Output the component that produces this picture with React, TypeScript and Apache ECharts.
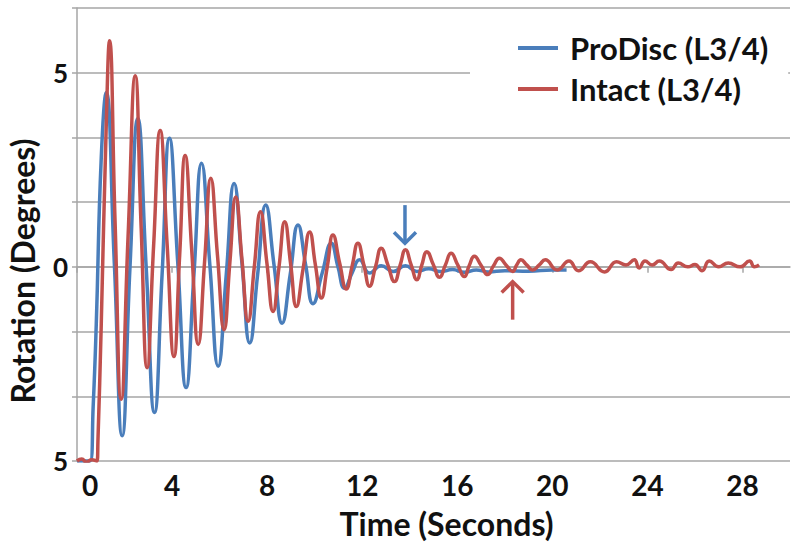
import React, { useEffect, useRef } from "react";
import * as echarts from "echarts";

// ProDisc (L3/4) – time (s) and rotation (degrees)
const prodiscT = [0, 0.3, 0.55, 0.68, 0.81, 1.02, 1.23, 1.57, 1.9, 2.23, 2.56, 2.91, 3.26, 3.58, 3.89, 4.24, 4.59, 4.92, 5.24, 5.59, 5.94, 6.28, 6.61, 6.94, 7.27, 7.6, 7.94, 8.29, 8.63, 8.97, 9.3, 9.62, 9.93, 10.32, 10.7, 10.98, 11.26, 11.58, 11.89, 12.31, 12.8, 13.3, 13.82, 14.3, 14.8, 15.3, 15.8, 16.3, 16.8, 17.3, 18.0, 19.0, 20.0, 20.6];
const prodiscV = [-5, -5, -5, -3.6, -1.49, 2.8, 4.49, 0.1, -4.35, 0, 3.82, 0, -3.75, -0.2, 3.31, 0.1, -3.11, -0.2, 2.67, 0.05, -2.56, -0.2, 2.15, 0.1, -1.96, -0.2, 1.59, 0.05, -1.45, -0.2, 1.08, 0.05, -0.95, -0.15, 0.61, 0.0, -0.55, -0.15, 0.18, -0.16, 0.03, -0.12, 0.03, -0.12, -0.05, -0.12, -0.07, -0.14, -0.08, -0.13, -0.1, -0.11, -0.08, -0.08];

// Intact (L3/4)
const intactT = [0, 0.2, 0.4, 0.6, 0.84, 0.88, 1.02, 1.23, 1.37, 1.6, 1.86, 2.15, 2.45, 2.7, 2.95, 3.22, 3.5, 3.79, 4.08, 4.32, 4.55, 4.83, 5.1, 5.37, 5.63, 5.91, 6.19, 6.43, 6.68, 6.94, 7.2, 7.46, 7.72, 7.99, 8.25, 8.5, 8.74, 8.99, 9.23, 9.51, 9.79, 10.03, 10.28, 10.53, 10.77, 11.05, 11.33, 11.58, 11.82, 12.07, 12.31, 12.56, 12.8, 13.08, 13.36, 13.6, 13.82, 14.06, 14.3, 14.5, 14.72, 14.99, 15.25, 15.5, 15.74, 16.02, 16.3, 16.5, 16.72, 17.0, 17.28, 17.52, 17.77, 18.05, 18.33, 18.5, 18.68, 18.92, 19.17, 19.45, 19.7, 20.2, 20.7, 21.1, 21.6, 22.2, 22.7, 23.1, 23.45, 23.65, 23.9, 24.2, 24.5, 25.0, 25.3, 25.7, 26.0, 26.3, 26.6, 27.0, 27.4, 27.9, 28.3, 28.5, 28.7];
const intactV = [-5, -4.95, -5.03, -4.97, -5, -4.5, -1.49, 3.64, 5.82, 1.2, -3.41, 0.8, 4.92, 1.0, -2.6, 0.5, 3.51, 0.6, -2.31, 0.3, 2.87, 0.4, -2.0, 0.15, 2.28, 0.3, -1.62, 0.1, 1.8, 0.2, -1.4, 0.0, 1.42, 0.1, -1.15, 0.0, 1.16, 0.07, -1.02, -0.06, 0.9, 0.05, -0.8, 0.0, 0.82, 0.1, -0.57, 0.03, 0.61, 0.05, -0.5, 0.0, 0.48, 0.05, -0.38, 0.05, 0.44, 0.05, -0.33, 0.03, 0.39, 0.06, -0.27, 0.05, 0.35, 0.05, -0.25, 0.03, 0.27, 0.04, -0.2, 0.02, 0.22, 0.05, -0.12, 0.05, 0.18, 0.05, -0.08, 0.05, 0.18, -0.08, 0.15, -0.1, 0.13, -0.13, 0.13, 0.05, 0.18, -0.03, 0.15, 0.05, 0.15, -0.07, 0.1, 0.0, 0.06, -0.1, 0.15, 0.0, 0.1, 0.0, 0.15, 0.0, 0.05];

const seriesNames = ["ProDisc (L3/4)", "Intact (L3/4)"];
const seriesColors = ["#4a7ebb", "#c0504d"];
const xTickValues = [0, 4, 8, 12, 16, 20, 24, 28];
const yLabelValues = [5, 0, -5];
const yLabelTexts = ["5", "0", "5"];

// Annotation arrows: [time, tail value, tip value]
const blueArrow = [13.8, 1.59, 0.61];
const redArrow = [18.33, -1.36, -0.38];

const FONT = "Lato, 'Open Sans', sans-serif";

export default function App() {
  const ref = useRef<HTMLDivElement>(null);
  useEffect(() => {
    if (!ref.current) return;
    const chart = echarts.init(ref.current, null, { renderer: "svg" });
    const zip = (t: number[], v: number[]) => t.map((x, i) => [x, v[i]]);
    chart.setOption({
      animation: false,
      backgroundColor: "#fff",
      grid: { left: 77, right: 10, top: 8, bottom: 88 },
      legend: {
        orient: "vertical",
        left: 470,
        top: 22,
        backgroundColor: "#fff",
        padding: [10, 20, 10, 48],
        itemWidth: 40,
        itemHeight: 4,
        itemGap: 9,
        icon: "rect",
        textStyle: { fontSize: 31, fontWeight: "bold", fontFamily: FONT, color: "#111", padding: [0, 0, 0, 7], lineHeight: 32 },
        data: seriesNames,
      },
      xAxis: {
        type: "value",
        min: 0,
        max: 30,
        interval: 4,
        axisLine: { lineStyle: { color: "#a6a6a6", width: 1.5 } },
        axisTick: { show: true, length: 6, customValues: xTickValues, lineStyle: { color: "#a6a6a6", width: 1.5 } },
        axisLabel: {
          customValues: xTickValues,
          margin: 10,
          fontSize: 28,
          fontWeight: "bold",
          fontFamily: FONT,
          color: "#111",
          formatter: (v: number) => (v === 0 ? "{z|0}" : String(v)),
          rich: { z: { padding: [0, 0, 0, 26], fontSize: 28, fontWeight: "bold", fontFamily: FONT, color: "#111" } },
        },
        splitLine: { show: false },
        name: "Time (Seconds)",
        nameLocation: "middle",
        nameGap: 46,
        nameTextStyle: { fontSize: 32, fontWeight: "bold", fontFamily: FONT, color: "#111", padding: [0, 0, 0, 26] },
      },
      yAxis: {
        type: "value",
        min: -5,
        max: 20 / 3,
        interval: 5 / 3,
        axisLine: { show: true, lineStyle: { color: "#a6a6a6", width: 1.5 } },
        axisTick: { show: true, length: 5, lineStyle: { color: "#a6a6a6", width: 1.5 } },
        axisLabel: {
          margin: 9,
          fontSize: 26,
          fontWeight: "bold",
          fontFamily: FONT,
          color: "#111",
          formatter: (v: number) => {
            for (let i = 0; i < yLabelValues.length; i++) {
              if (Math.abs(v - yLabelValues[i]) < 1e-6) return yLabelTexts[i];
            }
            return "";
          },
        },
        splitLine: { lineStyle: { color: "#a6a6a6", width: 1.5 } },
      },
      series: [
        {
          name: seriesNames[0],
          type: "line",
          data: zip(prodiscT, prodiscV),
          smooth: 0.5,
          showSymbol: false,
          lineStyle: { width: 3.5, color: seriesColors[0] },
          itemStyle: { color: seriesColors[0] },
        },
        {
          name: seriesNames[1],
          type: "line",
          data: zip(intactT, intactV),
          smooth: 0.5,
          showSymbol: false,
          lineStyle: { width: 3.5, color: seriesColors[1] },
          itemStyle: { color: seriesColors[1] },
        },
      ],
    });

    const arrowEls = (a: number[], color: string) => {
      const tail = chart.convertToPixel({ gridIndex: 0 }, [a[0], a[1]]) as number[];
      const tip = chart.convertToPixel({ gridIndex: 0 }, [a[0], a[2]]) as number[];
      const dir = tip[1] > tail[1] ? -1 : 1;
      return [
        { type: "line", shape: { x1: tail[0], y1: tail[1], x2: tip[0], y2: tip[1] }, style: { stroke: color, lineWidth: 3.5 }, z: 10 },
        {
          type: "polyline",
          shape: { points: [[tip[0] - 11, tip[1] + dir * 11], [tip[0], tip[1]], [tip[0] + 11, tip[1] + dir * 11]] },
          style: { stroke: color, lineWidth: 3.5, fill: null },
          z: 10,
        },
      ];
    };

    chart.setOption({
      graphic: [
        {
          type: "text",
          x: 22,
          y: 271,
          rotation: Math.PI / 2,
          style: {
            text: "Rotation (Degrees)",
            fill: "#111",
            font: `bold 32px ${FONT}`,
            align: "center",
            verticalAlign: "middle",
            textAlign: "center",
            textVerticalAlign: "middle",
          },
        },
        ...arrowEls(blueArrow, seriesColors[0]),
        ...arrowEls(redArrow, seriesColors[1]),
      ],
    });

    return () => chart.dispose();
  }, []);
  return <div ref={ref} style={{ position: "absolute", left: 0, top: 0, width: 800, height: 549 }} />;
}
